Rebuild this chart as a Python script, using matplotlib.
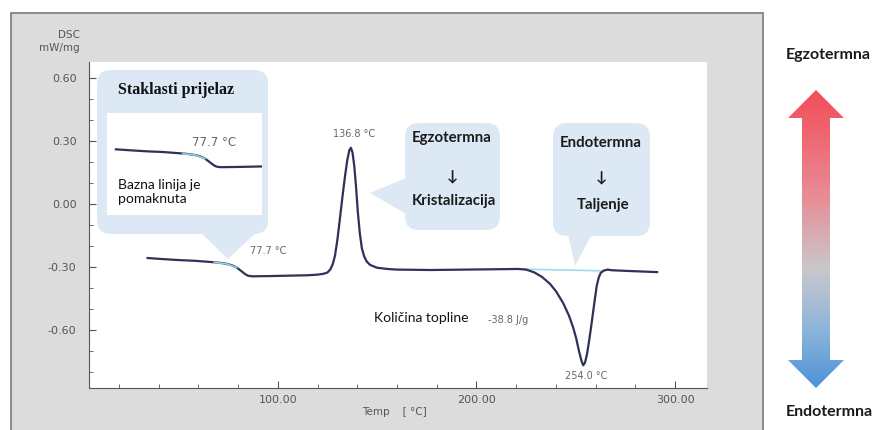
import numpy as np
import matplotlib
matplotlib.use("Agg")
import matplotlib.pyplot as plt
from matplotlib.patches import FancyBboxPatch, Polygon, Rectangle
from matplotlib.ticker import MultipleLocator, FormatStrFormatter
from matplotlib.colors import LinearSegmentedColormap

# DSC curve (temperature in C, signal in mW/mg)
temp = [34.5, 42.0, 50.6, 58.0, 65.0, 70.0, 74.0, 77.0, 79.3, 81.5, 83.5,
        85.0, 87.0, 95.0, 105.0, 115.0, 120.0, 123.0, 125.0, 126.5, 127.7,
        128.8, 130.0, 131.2, 132.5, 133.8, 135.0, 136.0, 136.8, 137.6, 138.5,
        139.4, 140.3, 141.3, 142.3, 143.5, 144.8, 146.5, 149.9, 155.0, 160.0,
        176.6, 195.0, 213.0, 221.0, 225.0, 229.0, 233.0, 237.0, 240.0, 243.6,
        246.5, 248.6, 250.2, 251.6, 252.8, 253.7, 254.6, 255.6, 256.6, 257.6,
        258.6, 259.7, 260.5, 261.5, 262.5, 264.0, 266.0, 268.0, 275.0, 290.9]
dsc = [-0.257, -0.262, -0.267, -0.270, -0.275, -0.279, -0.284, -0.292, -0.302,
       -0.318, -0.333, -0.341, -0.344, -0.343, -0.341, -0.339, -0.336, -0.332,
       -0.326, -0.310, -0.285, -0.245, -0.170, -0.075, 0.030, 0.130, 0.210,
       0.255, 0.267, 0.245, 0.180, 0.080, -0.040, -0.140, -0.210, -0.250,
       -0.274, -0.290, -0.303, -0.309, -0.312, -0.314, -0.312, -0.310, -0.309,
       -0.312, -0.325, -0.347, -0.380, -0.415, -0.471, -0.530, -0.586, -0.640,
       -0.700, -0.745, -0.767, -0.755, -0.715, -0.655, -0.590, -0.520, -0.443,
       -0.390, -0.350, -0.328, -0.317, -0.312, -0.315, -0.318, -0.324]

# baselines drawn in cyan
tg_temp = [68.0, 74.0, 79.3]
tg_dsc = [-0.278, -0.284, -0.302]
melt_base_temp = [223.4, 263.7]
melt_base_dsc = [-0.310, -0.318]

# labelled events
tg_label = "77.7 °C"
cryst_peak = (136.8, 0.267)
melt_peak = (254.0, -0.767)
heat_value = "-38.8 J/g"

x_ticks = [100, 200, 300]
y_ticks = [-0.60, -0.30, 0.00, 0.30, 0.60]

W, H = 879, 430
fig = plt.figure(figsize=(W / 100, H / 100), dpi=100)

# background layer in pixel coordinates
bg = fig.add_axes([0, 0, 1, 1], zorder=0)
bg.set_xlim(0, W)
bg.set_ylim(H, 0)
bg.axis("off")

bg.add_patch(Rectangle((11, 13), 752, 440, fc="#dcdcdc", ec="#7a7a7a", lw=1.2))
bg.add_patch(Rectangle((89, 62), 618, 326, fc="white", ec="none"))

BUB = "#dce9f5"


def bubble(x0, y0, x1, y1, tail):
    bg.add_patch(FancyBboxPatch((x0, y0), x1 - x0, y1 - y0,
                                boxstyle="round,pad=0,rounding_size=14",
                                fc=BUB, ec="none"))
    bg.add_patch(Polygon(tail, closed=True, fc=BUB, ec="none"))


bubble(97, 70, 268, 234, [(200, 232), (257, 232), (228, 259)])
bubble(405, 123, 500, 230, [(406, 178), (406, 214), (370, 193)])
bubble(553, 123, 650, 236, [(568, 234), (592, 234), (575, 266)])

# gradient double arrow on the right
arrow = Polygon([(816, 90), (844, 118), (830, 118), (830, 360), (844, 360),
                 (816, 388), (788, 360), (802, 360), (802, 118), (788, 118)],
                closed=True, fc="none", ec="none")
bg.add_patch(arrow)
cmap = LinearSegmentedColormap.from_list(
    "exo_endo", [(0.0, "#f24c58"), (0.35, "#e98a93"), (0.6, "#c9c8cc"),
                 (0.8, "#8db4da"), (1.0, "#4b92d8")])
grad = np.linspace(0, 1, 256).reshape(-1, 1)
im = bg.imshow(grad, cmap=cmap, extent=(786, 846, 390, 88), origin="upper",
               aspect="auto", interpolation="bilinear")
im.set_clip_path(arrow)
bg.set_xlim(0, W)
bg.set_ylim(H, 0)

# main DSC axes
ax = fig.add_axes([89 / W, (H - 388) / H, 618 / W, 326 / H], zorder=1)
ax.patch.set_alpha(0)
ax.plot(temp, dsc, color="#2e3158", lw=1.6, zorder=3)
ax.plot(tg_temp, tg_dsc, color="#8fd3e2", lw=1.2, zorder=4)
ax.plot(melt_base_temp, melt_base_dsc, color="#9fdbe8", lw=1.2, zorder=2)
ax.set_xlim(5, 316)
ax.set_ylim(-0.875, 0.675)
ax.set_xticks(x_ticks)
ax.set_yticks(y_ticks)
ax.xaxis.set_minor_locator(MultipleLocator(20))
ax.yaxis.set_minor_locator(MultipleLocator(0.1))
ax.xaxis.set_major_formatter(FormatStrFormatter("%.2f"))
ax.yaxis.set_major_formatter(FormatStrFormatter("%.2f"))
for s in ["top", "right"]:
    ax.spines[s].set_visible(False)
for s in ["left", "bottom"]:
    ax.spines[s].set_color("#555555")
ax.tick_params(which="both", direction="in", colors="#555555", labelsize=8)
ax.tick_params(which="major", length=5)
ax.tick_params(which="minor", length=3)
ax.tick_params(axis="y", pad=9)
ax.tick_params(axis="x", pad=5)

lbl = dict(color="#666666", fontsize=7, ha="center")
ax.annotate(tg_label, (77.7, -0.30), xytext=(12, 8), textcoords="offset points",
            va="bottom", **{**lbl, "ha": "left"})
ax.annotate(f"{cryst_peak[0]:.1f} °C", cryst_peak, xytext=(2, 6),
            textcoords="offset points", va="bottom", **lbl)
ax.annotate(f"{melt_peak[0]:.1f} °C", melt_peak, xytext=(2, -4),
            textcoords="offset points", va="top", **lbl)

# inset zoom on the glass transition
ins = fig.add_axes([107 / W, (H - 215) / H, 155 / W, 102 / H], zorder=2)
ins.plot(temp, dsc, color="#2e3158", lw=1.6)
ins.plot(tg_temp, tg_dsc, color="#8fd3e2", lw=1.2)
ins.set_xlim(30, 108)
ins.set_ylim(-0.577, -0.08)
ins.set_xticks([])
ins.set_yticks([])
for s in ins.spines.values():
    s.set_visible(False)

# text layer on top, pixel coordinates
tx = fig.add_axes([0, 0, 1, 1], zorder=3)
tx.set_xlim(0, W)
tx.set_ylim(H, 0)
tx.axis("off")

sans = ["Lato", "DejaVu Sans"]
tx.text(80, 35, "DSC", ha="right", va="center", fontsize=7.5, color="#555555")
tx.text(80, 48, "mW/mg", ha="right", va="center", fontsize=7.5, color="#555555")
tx.text(362, 412, "Temp    [ °C]", ha="left", va="center", fontsize=7.5,
        color="#555555")

tx.text(118, 90, "Staklasti prijelaz", family="Liberation Serif",
        fontweight="bold", fontsize=11.5, ha="left", va="center", color="#111111")
tx.text(214, 142, tg_label, fontsize=8.5, color="#666666", ha="center",
        va="center")
tx.text(118, 192, "Bazna linija je\npomaknuta", family=sans, fontsize=10,
        ha="left", va="center", color="#111111", linespacing=1.25)

bold = dict(family=sans, fontweight="bold", fontsize=10.8, ha="center",
            va="center", color="#1a1a1a")
tx.text(452, 138, "Egzotermna", **bold)
tx.text(452, 177, "↓", **bold)
tx.text(454, 201, "Kristalizacija", **bold)
tx.text(601, 143, "Endotermna", **bold)
tx.text(601, 178, "↓", **bold)
tx.text(603, 205, "Taljenje", **bold)

tx.text(374, 318, "Količina topline", family=sans, fontsize=10, ha="left",
        va="center", color="#111111")
tx.text(488, 320, heat_value, fontsize=7, ha="left", va="center",
        color="#666666")

tx.text(828, 55, "Egzotermna", **{**bold, "fontsize": 11.5})
tx.text(829, 412, "Endotermna", **{**bold, "fontsize": 11.5})

fig.savefig("out.png", dpi=100)
plt.close(fig)
